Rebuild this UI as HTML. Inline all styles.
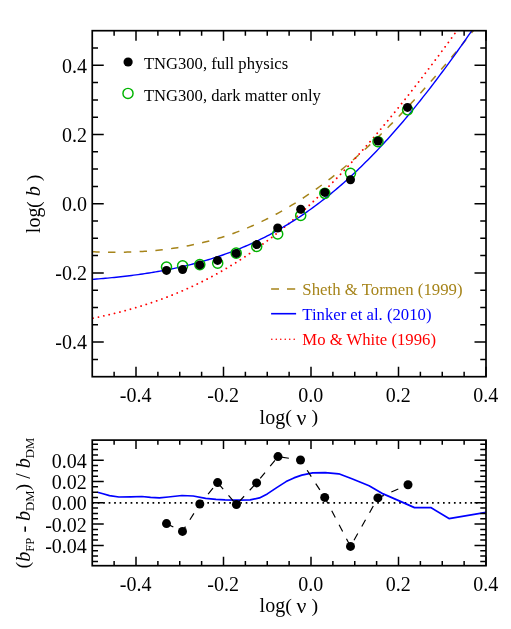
<!DOCTYPE html>
<html><head><meta charset="utf-8"><title>chart</title><style>html,body{margin:0;padding:0;background:#fff}body{width:511px;height:629px;overflow:hidden;font-family:"Liberation Serif",serif}</style></head><body>
<svg width="511" height="629" viewBox="0 0 511 629" style="display:block;will-change:transform">
<rect width="511" height="629" fill="#fff"/>
<defs><clipPath id="c1"><rect x="92.25" y="30.70" width="393.75" height="346.00"/></clipPath><clipPath id="c2"><rect x="92.25" y="440.10" width="393.75" height="125.60"/></clipPath></defs>
<g clip-path="url(#c1)" fill="none" stroke-width="1.4">
<path d="M92.25 251.74 L94.44 251.82 L96.62 251.90 L98.81 251.97 L101.00 252.04 L103.19 252.09 L105.38 252.14 L107.56 252.18 L109.75 252.21 L111.94 252.23 L114.12 252.24 L116.31 252.24 L118.50 252.23 L120.69 252.21 L122.88 252.18 L125.06 252.14 L127.25 252.10 L129.44 252.04 L131.62 251.97 L133.81 251.88 L136.00 251.79 L138.19 251.69 L140.38 251.57 L142.56 251.45 L144.75 251.31 L146.94 251.15 L149.12 250.99 L151.31 250.81 L153.50 250.63 L155.69 250.42 L157.88 250.21 L160.06 249.98 L162.25 249.74 L164.44 249.48 L166.62 249.21 L168.81 248.93 L171.00 248.63 L173.19 248.32 L175.38 247.99 L177.56 247.65 L179.75 247.29 L181.94 246.92 L184.12 246.53 L186.31 246.13 L188.50 245.71 L190.69 245.28 L192.88 244.82 L195.06 244.36 L197.25 243.87 L199.44 243.37 L201.62 242.85 L203.81 242.32 L206.00 241.77 L208.19 241.20 L210.38 240.61 L212.56 240.01 L214.75 239.39 L216.94 238.75 L219.12 238.09 L221.31 237.41 L223.50 236.72 L225.69 236.00 L227.88 235.27 L230.06 234.52 L232.25 233.75 L234.44 232.96 L236.62 232.16 L238.81 231.33 L241.00 230.48 L243.19 229.62 L245.38 228.73 L247.56 227.83 L249.75 226.90 L251.94 225.96 L254.13 224.99 L256.31 224.01 L258.50 223.00 L260.69 221.98 L262.88 220.93 L265.06 219.87 L267.25 218.78 L269.44 217.67 L271.62 216.55 L273.81 215.40 L276.00 214.23 L278.19 213.04 L280.38 211.83 L282.56 210.60 L284.75 209.35 L286.94 208.08 L289.12 206.79 L291.31 205.47 L293.50 204.14 L295.69 202.78 L297.88 201.41 L300.06 200.01 L302.25 198.59 L304.44 197.16 L306.62 195.70 L308.81 194.22 L311.00 192.72 L313.19 191.20 L315.38 189.66 L317.56 188.10 L319.75 186.51 L321.94 184.91 L324.12 183.29 L326.31 181.65 L328.50 179.98 L330.69 178.30 L332.88 176.60 L335.06 174.87 L337.25 173.13 L339.44 171.37 L341.62 169.58 L343.81 167.78 L346.00 165.96 L348.19 164.12 L350.38 162.26 L352.56 160.38 L354.75 158.48 L356.94 156.56 L359.12 154.62 L361.31 152.66 L363.50 150.69 L365.69 148.70 L367.88 146.68 L370.06 144.65 L372.25 142.61 L374.44 140.54 L376.62 138.45 L378.81 136.35 L381.00 134.23 L383.19 132.10 L385.38 129.94 L387.56 127.77 L389.75 125.58 L391.94 123.37 L394.12 121.15 L396.31 118.91 L398.50 116.66 L400.69 114.38 L402.88 112.10 L405.06 109.79 L407.25 107.47 L409.44 105.13 L411.62 102.78 L413.81 100.42 L416.00 98.03 L418.19 95.64 L420.38 93.22 L422.56 90.80 L424.75 88.36 L426.94 85.90 L429.12 83.43 L431.31 80.94 L433.50 78.45 L435.69 75.93 L437.88 73.41 L440.06 70.87 L442.25 68.31 L444.44 65.75 L446.62 63.17 L448.81 60.58 L451.00 57.97 L453.19 55.35 L455.38 52.72 L457.56 50.08 L459.75 47.43 L461.94 44.76 L464.12 42.08 L466.31 39.39 L468.50 36.69 L470.69 33.98 L472.88 31.26 L475.06 28.52 L477.25 25.78 L479.44 23.02 L481.63 20.25 L483.81 17.47 L486.00 14.69" stroke="#a6841a" stroke-width="1.5" stroke-dasharray="7.4 8.4" stroke-dashoffset="0"/>
<path d="M92.25 318.38 L94.44 317.93 L96.62 317.48 L98.81 317.02 L101.00 316.54 L103.19 316.06 L105.38 315.57 L107.56 315.07 L109.75 314.56 L111.94 314.04 L114.12 313.51 L116.31 312.96 L118.50 312.41 L120.69 311.85 L122.88 311.27 L125.06 310.69 L127.25 310.09 L129.44 309.49 L131.62 308.87 L133.81 308.23 L136.00 307.59 L138.19 306.94 L140.38 306.27 L142.56 305.59 L144.75 304.89 L146.94 304.19 L149.12 303.47 L151.31 302.74 L153.50 301.99 L155.69 301.23 L157.88 300.46 L160.06 299.67 L162.25 298.87 L164.44 298.06 L166.62 297.23 L168.81 296.39 L171.00 295.53 L173.19 294.65 L175.38 293.76 L177.56 292.86 L179.75 291.94 L181.94 291.01 L184.12 290.05 L186.31 289.09 L188.50 288.10 L190.69 287.10 L192.88 286.09 L195.06 285.06 L197.25 284.01 L199.44 282.94 L201.62 281.86 L203.81 280.76 L206.00 279.64 L208.19 278.51 L210.38 277.35 L212.56 276.18 L214.75 274.99 L216.94 273.79 L219.12 272.56 L221.31 271.32 L223.50 270.06 L225.69 268.78 L227.88 267.48 L230.06 266.16 L232.25 264.83 L234.44 263.47 L236.62 262.10 L238.81 260.70 L241.00 259.29 L243.19 257.86 L245.38 256.41 L247.56 254.94 L249.75 253.45 L251.94 251.94 L254.13 250.41 L256.31 248.86 L258.50 247.29 L260.69 245.70 L262.88 244.10 L265.06 242.47 L267.25 240.82 L269.44 239.15 L271.62 237.47 L273.81 235.76 L276.00 234.03 L278.19 232.28 L280.38 230.52 L282.56 228.73 L284.75 226.92 L286.94 225.10 L289.12 223.25 L291.31 221.38 L293.50 219.50 L295.69 217.59 L297.88 215.66 L300.06 213.72 L302.25 211.75 L304.44 209.77 L306.62 207.77 L308.81 205.74 L311.00 203.70 L313.19 201.64 L315.38 199.56 L317.56 197.46 L319.75 195.34 L321.94 193.20 L324.12 191.04 L326.31 188.87 L328.50 186.67 L330.69 184.46 L332.88 182.23 L335.06 179.98 L337.25 177.72 L339.44 175.43 L341.62 173.13 L343.81 170.81 L346.00 168.47 L348.19 166.12 L350.38 163.74 L352.56 161.36 L354.75 158.95 L356.94 156.53 L359.12 154.09 L361.31 151.63 L363.50 149.16 L365.69 146.67 L367.88 144.16 L370.06 141.64 L372.25 139.11 L374.44 136.55 L376.62 133.99 L378.81 131.41 L381.00 128.81 L383.19 126.20 L385.38 123.57 L387.56 120.93 L389.75 118.27 L391.94 115.60 L394.12 112.92 L396.31 110.22 L398.50 107.51 L400.69 104.79 L402.88 102.05 L405.06 99.30 L407.25 96.53 L409.44 93.76 L411.62 90.97 L413.81 88.17 L416.00 85.35 L418.19 82.53 L420.38 79.69 L422.56 76.84 L424.75 73.98 L426.94 71.11 L429.12 68.23 L431.31 65.33 L433.50 62.43 L435.69 59.51 L437.88 56.59 L440.06 53.65 L442.25 50.70 L444.44 47.75 L446.62 44.78 L448.81 41.80 L451.00 38.82 L453.19 35.82 L455.38 32.82 L457.56 29.81 L459.75 26.79 L461.94 23.76 L464.12 20.72 L466.31 17.67 L468.50 14.61 L470.69 11.55 L472.88 8.48 L475.06 5.40 L477.25 2.31 L479.44 -0.79 L481.63 -3.89 L483.81 -7.00 L486.00 -10.12" stroke="#ff0000" stroke-width="1.85" stroke-linecap="round" stroke-dasharray="0.01 5.488" stroke-dashoffset="-0.85"/>
<path d="M92.25 279.35 L94.44 279.19 L96.62 279.02 L98.81 278.84 L101.00 278.66 L103.19 278.48 L105.38 278.28 L107.56 278.08 L109.75 277.88 L111.94 277.67 L114.12 277.45 L116.31 277.23 L118.50 277.00 L120.69 276.76 L122.88 276.51 L125.06 276.26 L127.25 276.00 L129.44 275.73 L131.62 275.46 L133.81 275.18 L136.00 274.89 L138.19 274.59 L140.38 274.28 L142.56 273.97 L144.75 273.64 L146.94 273.31 L149.12 272.97 L151.31 272.62 L153.50 272.26 L155.69 271.89 L157.88 271.51 L160.06 271.12 L162.25 270.73 L164.44 270.32 L166.62 269.90 L168.81 269.47 L171.00 269.03 L173.19 268.58 L175.38 268.12 L177.56 267.64 L179.75 267.16 L181.94 266.66 L184.12 266.16 L186.31 265.64 L188.50 265.10 L190.69 264.56 L192.88 264.00 L195.06 263.43 L197.25 262.85 L199.44 262.25 L201.62 261.64 L203.81 261.01 L206.00 260.38 L208.19 259.72 L210.38 259.06 L212.56 258.37 L214.75 257.68 L216.94 256.97 L219.12 256.24 L221.31 255.50 L223.50 254.74 L225.69 253.96 L227.88 253.17 L230.06 252.37 L232.25 251.54 L234.44 250.70 L236.62 249.84 L238.81 248.97 L241.00 248.08 L243.19 247.17 L245.38 246.24 L247.56 245.29 L249.75 244.33 L251.94 243.34 L254.13 242.34 L256.31 241.32 L258.50 240.28 L260.69 239.21 L262.88 238.13 L265.06 237.03 L267.25 235.91 L269.44 234.77 L271.62 233.61 L273.81 232.43 L276.00 231.22 L278.19 230.00 L280.38 228.75 L282.56 227.49 L284.75 226.20 L286.94 224.89 L289.12 223.55 L291.31 222.20 L293.50 220.82 L295.69 219.42 L297.88 218.00 L300.06 216.55 L302.25 215.08 L304.44 213.59 L306.62 212.08 L308.81 210.54 L311.00 208.98 L313.19 207.39 L315.38 205.78 L317.56 204.15 L319.75 202.49 L321.94 200.81 L324.12 199.11 L326.31 197.38 L328.50 195.63 L330.69 193.85 L332.88 192.05 L335.06 190.23 L337.25 188.38 L339.44 186.51 L341.62 184.61 L343.81 182.69 L346.00 180.74 L348.19 178.77 L350.38 176.77 L352.56 174.75 L354.75 172.71 L356.94 170.64 L359.12 168.55 L361.31 166.43 L363.50 164.29 L365.69 162.12 L367.88 159.93 L370.06 157.72 L372.25 155.48 L374.44 153.22 L376.62 150.94 L378.81 148.63 L381.00 146.30 L383.19 143.94 L385.38 141.56 L387.56 139.16 L389.75 136.74 L391.94 134.29 L394.12 131.82 L396.31 129.32 L398.50 126.81 L400.69 124.27 L402.88 121.71 L405.06 119.13 L407.25 116.52 L409.44 113.89 L411.62 111.25 L413.81 108.58 L416.00 105.89 L418.19 103.18 L420.38 100.44 L422.56 97.69 L424.75 94.92 L426.94 92.12 L429.12 89.31 L431.31 86.47 L433.50 83.62 L435.69 80.75 L437.88 77.86 L440.06 74.94 L442.25 72.01 L444.44 69.07 L446.62 66.10 L448.81 63.11 L451.00 60.11 L453.19 57.09 L455.38 54.05 L457.56 51.00 L459.75 47.92 L461.94 44.83 L464.12 41.73 L466.31 38.60 L468.50 35.47 L470.69 32.31 L472.88 29.14 L475.06 25.95 L477.25 22.75 L479.44 19.54 L481.63 16.30 L483.81 13.06 L486.00 9.80" stroke="#0000ff"/>
</g>
<g>
<circle cx="166.5" cy="267.1" r="5.05" fill="none" stroke="#00b400" stroke-width="1.45"/>
<circle cx="182.6" cy="265.8" r="5.05" fill="none" stroke="#00b400" stroke-width="1.45"/>
<circle cx="199.8" cy="264.6" r="5.05" fill="none" stroke="#00b400" stroke-width="1.45"/>
<circle cx="217.7" cy="263.2" r="5.05" fill="none" stroke="#00b400" stroke-width="1.45"/>
<circle cx="236.2" cy="253.1" r="5.05" fill="none" stroke="#00b400" stroke-width="1.45"/>
<circle cx="256.7" cy="246.5" r="5.05" fill="none" stroke="#00b400" stroke-width="1.45"/>
<circle cx="277.7" cy="234.0" r="5.05" fill="none" stroke="#00b400" stroke-width="1.45"/>
<circle cx="300.7" cy="215.5" r="5.05" fill="none" stroke="#00b400" stroke-width="1.45"/>
<circle cx="324.8" cy="193.3" r="5.05" fill="none" stroke="#00b400" stroke-width="1.45"/>
<circle cx="350.5" cy="173.3" r="5.05" fill="none" stroke="#00b400" stroke-width="1.45"/>
<circle cx="378.0" cy="141.7" r="5.05" fill="none" stroke="#00b400" stroke-width="1.45"/>
<circle cx="407.6" cy="109.8" r="5.05" fill="none" stroke="#00b400" stroke-width="1.45"/>
<circle cx="166.5" cy="270.4" r="4.5" fill="#000"/>
<circle cx="182.6" cy="269.6" r="4.5" fill="#000"/>
<circle cx="199.8" cy="264.9" r="4.5" fill="#000"/>
<circle cx="217.6" cy="260.4" r="4.5" fill="#000"/>
<circle cx="236.2" cy="253.4" r="4.5" fill="#000"/>
<circle cx="256.7" cy="244.6" r="4.5" fill="#000"/>
<circle cx="277.7" cy="228.0" r="4.5" fill="#000"/>
<circle cx="300.7" cy="209.3" r="4.5" fill="#000"/>
<circle cx="324.8" cy="192.4" r="4.5" fill="#000"/>
<circle cx="350.5" cy="179.8" r="4.5" fill="#000"/>
<circle cx="378.0" cy="141.0" r="4.5" fill="#000"/>
<circle cx="407.5" cy="107.4" r="4.5" fill="#000"/>
</g>
<g stroke="#000" fill="none">
<rect x="92.25" y="30.70" width="393.75" height="346.00" stroke-width="1.7"/>
<g stroke-width="1.5">
<path d="M136.00 376.70v-10.00M136.00 30.70v10.00"/>
<path d="M223.50 376.70v-10.00M223.50 30.70v10.00"/>
<path d="M311.00 376.70v-10.00M311.00 30.70v10.00"/>
<path d="M398.50 376.70v-10.00M398.50 30.70v10.00"/>
<path d="M486.00 376.70v-10.00M486.00 30.70v10.00"/>
<path d="M114.12 376.70v-5.00M114.12 30.70v5.00"/>
<path d="M157.88 376.70v-5.00M157.88 30.70v5.00"/>
<path d="M179.75 376.70v-5.00M179.75 30.70v5.00"/>
<path d="M201.62 376.70v-5.00M201.62 30.70v5.00"/>
<path d="M245.38 376.70v-5.00M245.38 30.70v5.00"/>
<path d="M267.25 376.70v-5.00M267.25 30.70v5.00"/>
<path d="M289.12 376.70v-5.00M289.12 30.70v5.00"/>
<path d="M332.88 376.70v-5.00M332.88 30.70v5.00"/>
<path d="M354.75 376.70v-5.00M354.75 30.70v5.00"/>
<path d="M376.62 376.70v-5.00M376.62 30.70v5.00"/>
<path d="M420.38 376.70v-5.00M420.38 30.70v5.00"/>
<path d="M442.25 376.70v-5.00M442.25 30.70v5.00"/>
<path d="M464.13 376.70v-5.00M464.13 30.70v5.00"/>
<path d="M92.25 342.10h11.50M486.00 342.10h-11.50"/>
<path d="M92.25 272.90h11.50M486.00 272.90h-11.50"/>
<path d="M92.25 203.70h11.50M486.00 203.70h-11.50"/>
<path d="M92.25 134.50h11.50M486.00 134.50h-11.50"/>
<path d="M92.25 65.30h11.50M486.00 65.30h-11.50"/>
<path d="M92.25 359.40h5.75M486.00 359.40h-5.75"/>
<path d="M92.25 324.80h5.75M486.00 324.80h-5.75"/>
<path d="M92.25 307.50h5.75M486.00 307.50h-5.75"/>
<path d="M92.25 290.20h5.75M486.00 290.20h-5.75"/>
<path d="M92.25 255.60h5.75M486.00 255.60h-5.75"/>
<path d="M92.25 238.30h5.75M486.00 238.30h-5.75"/>
<path d="M92.25 221.00h5.75M486.00 221.00h-5.75"/>
<path d="M92.25 186.40h5.75M486.00 186.40h-5.75"/>
<path d="M92.25 169.10h5.75M486.00 169.10h-5.75"/>
<path d="M92.25 151.80h5.75M486.00 151.80h-5.75"/>
<path d="M92.25 117.20h5.75M486.00 117.20h-5.75"/>
<path d="M92.25 99.90h5.75M486.00 99.90h-5.75"/>
<path d="M92.25 82.60h5.75M486.00 82.60h-5.75"/>
<path d="M92.25 48.00h5.75M486.00 48.00h-5.75"/>
</g></g>
<g clip-path="url(#c2)" fill="none">
<path d="M92.25 502.80H486.00" stroke="#000" stroke-width="1.7" stroke-dasharray="1.7 3.78"/>
<path d="M97.50 492.20 L103.00 493.80 L109.50 495.60 L118.90 497.00 L130.60 496.80 L141.90 496.50 L150.60 497.30 L159.40 497.80 L168.20 497.00 L182.00 495.50 L193.20 496.00 L205.70 498.30 L216.00 499.30 L225.00 499.80 L237.60 500.10 L250.10 499.80 L259.50 497.90 L267.30 493.90 L276.70 487.60 L286.10 481.60 L293.90 477.90 L301.80 475.10 L312.70 472.90 L325.20 472.60 L338.80 473.80 L351.90 478.80 L369.10 485.70 L383.20 493.90 L400.40 501.40 L414.50 507.60 L430.80 507.60 L449.00 518.60 L486.00 512.30" stroke="#0000ff" stroke-width="1.7" stroke-linejoin="round"/>
<path d="M166.50 523.60 L182.50 531.40 L199.80 504.00 L217.60 482.60 L236.40 504.50 L256.60 482.90 L278.00 456.60 L300.50 460.00 L324.70 497.40 L350.50 546.40 L377.90 497.90 L408.00 484.80" stroke="#000" stroke-width="1.2" stroke-dasharray="7.6 8.2"/>
</g>
<circle cx="166.5" cy="523.6" r="4.5" fill="#000"/>
<circle cx="182.5" cy="531.4" r="4.5" fill="#000"/>
<circle cx="199.8" cy="504.0" r="4.5" fill="#000"/>
<circle cx="217.6" cy="482.6" r="4.5" fill="#000"/>
<circle cx="236.4" cy="504.5" r="4.5" fill="#000"/>
<circle cx="256.6" cy="482.9" r="4.5" fill="#000"/>
<circle cx="278.0" cy="456.6" r="4.5" fill="#000"/>
<circle cx="300.5" cy="460.0" r="4.5" fill="#000"/>
<circle cx="324.7" cy="497.4" r="4.5" fill="#000"/>
<circle cx="350.5" cy="546.4" r="4.5" fill="#000"/>
<circle cx="377.9" cy="497.9" r="4.5" fill="#000"/>
<circle cx="408.0" cy="484.8" r="4.5" fill="#000"/>
<g stroke="#000" fill="none">
<rect x="92.25" y="440.10" width="393.75" height="125.60" stroke-width="1.7"/>
<g stroke-width="1.5">
<path d="M136.00 565.70v-8.90M136.00 440.10v8.90"/>
<path d="M223.50 565.70v-8.90M223.50 440.10v8.90"/>
<path d="M311.00 565.70v-8.90M311.00 440.10v8.90"/>
<path d="M398.50 565.70v-8.90M398.50 440.10v8.90"/>
<path d="M486.00 565.70v-8.90M486.00 440.10v8.90"/>
<path d="M114.12 565.70v-4.70M114.12 440.10v4.70"/>
<path d="M157.88 565.70v-4.70M157.88 440.10v4.70"/>
<path d="M179.75 565.70v-4.70M179.75 440.10v4.70"/>
<path d="M201.62 565.70v-4.70M201.62 440.10v4.70"/>
<path d="M245.38 565.70v-4.70M245.38 440.10v4.70"/>
<path d="M267.25 565.70v-4.70M267.25 440.10v4.70"/>
<path d="M289.12 565.70v-4.70M289.12 440.10v4.70"/>
<path d="M332.88 565.70v-4.70M332.88 440.10v4.70"/>
<path d="M354.75 565.70v-4.70M354.75 440.10v4.70"/>
<path d="M376.62 565.70v-4.70M376.62 440.10v4.70"/>
<path d="M420.38 565.70v-4.70M420.38 440.10v4.70"/>
<path d="M442.25 565.70v-4.70M442.25 440.10v4.70"/>
<path d="M464.13 565.70v-4.70M464.13 440.10v4.70"/>
<path d="M92.25 545.40h11.50M486.00 545.40h-11.50"/>
<path d="M92.25 524.10h11.50M486.00 524.10h-11.50"/>
<path d="M92.25 502.80h11.50M486.00 502.80h-11.50"/>
<path d="M92.25 481.50h11.50M486.00 481.50h-11.50"/>
<path d="M92.25 460.20h11.50M486.00 460.20h-11.50"/>
<path d="M92.25 561.38h5.75M486.00 561.38h-5.75"/>
<path d="M92.25 556.05h5.75M486.00 556.05h-5.75"/>
<path d="M92.25 550.73h5.75M486.00 550.73h-5.75"/>
<path d="M92.25 540.08h5.75M486.00 540.08h-5.75"/>
<path d="M92.25 534.75h5.75M486.00 534.75h-5.75"/>
<path d="M92.25 529.42h5.75M486.00 529.42h-5.75"/>
<path d="M92.25 518.77h5.75M486.00 518.77h-5.75"/>
<path d="M92.25 513.45h5.75M486.00 513.45h-5.75"/>
<path d="M92.25 508.12h5.75M486.00 508.12h-5.75"/>
<path d="M92.25 497.48h5.75M486.00 497.48h-5.75"/>
<path d="M92.25 492.15h5.75M486.00 492.15h-5.75"/>
<path d="M92.25 486.82h5.75M486.00 486.82h-5.75"/>
<path d="M92.25 476.18h5.75M486.00 476.18h-5.75"/>
<path d="M92.25 470.85h5.75M486.00 470.85h-5.75"/>
<path d="M92.25 465.52h5.75M486.00 465.52h-5.75"/>
<path d="M92.25 454.88h5.75M486.00 454.88h-5.75"/>
<path d="M92.25 449.55h5.75M486.00 449.55h-5.75"/>
<path d="M92.25 444.23h5.75M486.00 444.23h-5.75"/>
</g></g>
<g font-family="'Liberation Serif', serif" font-size="20" fill="#000">
<text x="135.70" y="402.45" text-anchor="middle">-0.4</text>
<text x="135.70" y="591.4" text-anchor="middle">-0.4</text>
<text x="223.20" y="402.45" text-anchor="middle">-0.2</text>
<text x="223.20" y="591.4" text-anchor="middle">-0.2</text>
<text x="310.70" y="402.45" text-anchor="middle">0.0</text>
<text x="310.70" y="591.4" text-anchor="middle">0.0</text>
<text x="398.20" y="402.45" text-anchor="middle">0.2</text>
<text x="398.20" y="591.4" text-anchor="middle">0.2</text>
<text x="485.70" y="402.45" text-anchor="middle">0.4</text>
<text x="485.70" y="591.4" text-anchor="middle">0.4</text>
<text x="86.9" y="349.40" text-anchor="end">-0.4</text>
<text x="86.9" y="280.20" text-anchor="end">-0.2</text>
<text x="86.9" y="211.00" text-anchor="end">0.0</text>
<text x="86.9" y="141.80" text-anchor="end">0.2</text>
<text x="86.9" y="72.60" text-anchor="end">0.4</text>
<text x="86.85" y="553.00" text-anchor="end">-0.04</text>
<text x="86.85" y="531.70" text-anchor="end">-0.02</text>
<text x="86.85" y="510.40" text-anchor="end">0.00</text>
<text x="86.85" y="489.10" text-anchor="end">0.02</text>
<text x="86.85" y="467.80" text-anchor="end">0.04</text>
<text x="259.60" y="423.80">log</text>
<text transform="translate(285.16 423.20) scale(1 0.890)">(</text>
<text x="296.47" y="424.50" font-size="21.8">ν</text>
<text transform="translate(311.62 423.20) scale(1 0.890)">)</text>
<text x="259.60" y="612.10">log</text>
<text transform="translate(285.16 611.50) scale(1 0.890)">(</text>
<text x="296.47" y="612.80" font-size="21.8">ν</text>
<text transform="translate(311.62 611.50) scale(1 0.890)">)</text>
<g transform="translate(40.30 203.90) rotate(-90) translate(-29.24 0)">
<text x="0.00" y="0.00">log</text>
<text transform="translate(25.16 -0.60) scale(1 0.890)">(</text>
<text x="36.82" y="0.00" font-style="italic">b</text>
<text transform="translate(51.82 -0.60) scale(1 0.890)">)</text>
</g>
<g transform="translate(29.50 503.10) rotate(-90) translate(-65.30 0)">
<text transform="translate(0.00 -0.60) scale(1 0.890)">(</text>
<text x="6.66" y="0.00" font-style="italic">b</text>
<text x="16.66" y="4.80" font-size="12.7">FP</text>
<text x="35.79" y="0.00">-</text>
<text x="47.45" y="0.00" font-style="italic">b</text>
<text x="57.45" y="4.80" font-size="12.7">DM</text>
<text transform="translate(77.91 -0.60) scale(1 0.890)">)</text>
<text x="89.57" y="0.00">/</text>
<text x="100.13" y="0.00" font-style="italic">b</text>
<text x="110.13" y="4.80" font-size="12.7">DM</text>
</g>
</g>
<g font-family="'Liberation Serif', serif" font-size="16.6">
<circle cx="128.1" cy="62.0" r="4.6" fill="#000"/>
<circle cx="128.0" cy="93.4" r="5.05" fill="none" stroke="#00b400" stroke-width="1.45"/>
<text x="143.9" y="68.7" fill="#000">TNG300, full physics</text>
<text x="143.9" y="100.6" fill="#000">TNG300, dark matter only</text>
<path d="M271.1 288.9H279M287 288.9H295.2" stroke="#a6841a" stroke-width="1.5"/>
<path d="M271.1 313.7H296.1" stroke="#0000ff" stroke-width="1.6"/>
<path d="M271.8 339.2H296" stroke="#ff0000" stroke-width="1.6" stroke-linecap="round" stroke-dasharray="0.01 4.47"/>
<text x="302.3" y="295.0" font-size="16.8" fill="#a6841a">Sheth &amp; Tormen (1999)</text>
<text x="302.3" y="319.9" font-size="16.7" fill="#0000ff">Tinker et al. (2010)</text>
<text x="302.3" y="345.1" font-size="16.7" fill="#ff0000">Mo &amp; White (1996)</text>
</g>
</svg>
</body></html>
